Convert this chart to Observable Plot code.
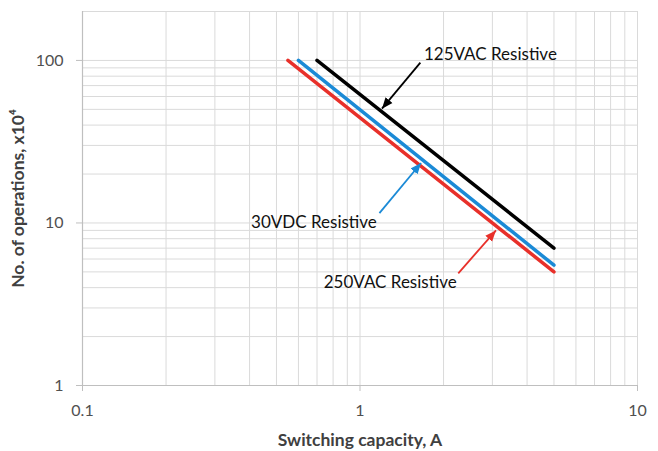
<!DOCTYPE html>
<html>
<head>
<meta charset="utf-8">
<script src="https://cdn.jsdelivr.net/npm/d3@7"></script>
<script src="https://cdn.jsdelivr.net/npm/@observablehq/plot@0.6"></script>
<style>
  html, body { margin: 0; padding: 0; background: #fff; }
  #chart svg { display: block; }
</style>
</head>
<body>
<div id="chart"></div>
<script>
// ---- Data ----
const seriesNames = ["125VAC Resistive", "30VDC Resistive", "250VAC Resistive"];
const seriesColors = ["#000000", "#1b8ad6", "#e8302a"];
const current125 = [0.7, 5];
const ops125 = [100, 7];
const current30 = [0.6, 5];
const ops30 = [100, 5.5];
const current250 = [0.55, 5];
const ops250 = [100, 5];

const xTicks = [0.1, 1, 10];
const xTickLabels = ["0.1", "1", "10"];
const yTicks = [1, 10, 100];
const yTickLabels = ["1", "10", "100"];
const xGrid = [0.2, 0.3, 0.4, 0.5, 0.6, 0.7, 0.8, 0.9, 1, 2, 3, 4, 5, 6, 7, 8, 9, 10];
const yGrid = [2, 3, 4, 5, 6, 7, 8, 9, 10, 20, 30, 40, 50, 60, 70, 80, 90, 100, 200];

// annotation labels (label position and arrow from/to, in data units)
const labelText = ["125VAC Resistive", "30VDC Resistive", "250VAC Resistive"];
const labelX = [1.70, 1.15, 2.23];
const labelY = [108, 10.1, 4.28];
const labelAnchor = ["start", "end", "end"];
const arrowX1 = [1.65, 1.175, 2.26];
const arrowY1 = [97, 11.5, 4.9];
const arrowX2 = [1.20, 1.66, 3.09];
const arrowY2 = [50.5, 23.4, 9.0];

const xTitle = "Switching capacity, A";
const yTitle = "No. of operations, x10\u2074";

// ---- Build tables ----
const seriesCurrents = [current125, current30, current250];
const seriesOps = [ops125, ops30, ops250];
const lineData = seriesNames.flatMap((name, i) =>
  seriesCurrents[i].map((c, j) => ({series: name, current: c, ops: seriesOps[i][j]}))
);
const annotations = labelText.map((t, i) => ({
  text: t, x: labelX[i], y: labelY[i], anchor: labelAnchor[i],
  x1: arrowX1[i], y1: arrowY1[i], x2: arrowX2[i], y2: arrowY2[i], color: seriesColors[i]
}));

function filledArrow(color, context) {
  const ns = "http://www.w3.org/2000/svg";
  const marker = context.document.createElementNS(ns, "marker");
  marker.setAttribute("viewBox", "-11 -5 12 10");
  marker.setAttribute("markerWidth", 12);
  marker.setAttribute("markerHeight", 10);
  marker.setAttribute("markerUnits", "userSpaceOnUse");
  marker.setAttribute("orient", "auto");
  marker.setAttribute("fill", color);
  marker.setAttribute("stroke", "none");
  const path = context.document.createElementNS(ns, "path");
  path.setAttribute("d", "M-11,-4.5L0,0L-11,4.5Z");
  marker.appendChild(path);
  return marker;
}

const font = "Lato, 'Open Sans', sans-serif";

const chart = Plot.plot({
  width: 658,
  height: 451,
  marginLeft: 82,
  marginRight: 21,
  marginTop: 11,
  marginBottom: 66,
  style: {fontFamily: font, background: "#fff"},
  x: {type: "log", domain: [0.1, 10]},
  y: {type: "log", domain: [1, 200]},
  color: {domain: seriesNames, range: seriesColors},
  marks: [
    Plot.ruleX(xGrid, {stroke: "#dadada", strokeWidth: 1}),
    Plot.ruleY(yGrid, {stroke: "#dadada", strokeWidth: 1}),
    Plot.ruleX([0.1], {stroke: "#bfbfbf", strokeWidth: 1.2}),
    Plot.ruleY([1], {stroke: "#bfbfbf", strokeWidth: 1.2}),
    Plot.axisX(xTicks, {
      tickSize: 6, tickPadding: 13, stroke: "#bfbfbf", fill: "#505050",
      fontSize: 16, label: null,
      tickFormat: (d) => xTickLabels[xTicks.indexOf(d)]
    }),
    Plot.axisY(yTicks, {
      tickSize: 6, tickPadding: 13, stroke: "#bfbfbf", fill: "#505050",
      fontSize: 16, label: null,
      tickFormat: (d) => yTickLabels[yTicks.indexOf(d)]
    }),
    Plot.line(lineData, {x: "current", y: "ops", z: "series", stroke: "series", strokeWidth: 3.5}),
    Plot.link(annotations, {
      x1: "x1", y1: "y1", x2: "x2", y2: "y2", stroke: (d) => d.color,
      strokeWidth: 1.8, markerEnd: filledArrow
    }),
    Plot.text(annotations.filter(d => d.anchor === "start"), {
      x: "x", y: "y", text: "text", textAnchor: "start", fontSize: 17, fill: "#111"
    }),
    Plot.text(annotations.filter(d => d.anchor === "end"), {
      x: "x", y: "y", text: "text", textAnchor: "end", fontSize: 17, fill: "#111"
    }),
    Plot.text([xTitle], {
      frameAnchor: "bottom", dy: 55, textAnchor: "middle", lineAnchor: "middle",
      fontSize: 17.5, fontWeight: "bold", fill: "#404040"
    }),
    Plot.text([yTitle], {
      frameAnchor: "left", dx: -64, rotate: -90, textAnchor: "middle", lineAnchor: "middle",
      fontSize: 17.5, fontWeight: "bold", fill: "#404040"
    })
  ]
});

document.getElementById("chart").appendChild(chart);
</script>
</body>
</html>
